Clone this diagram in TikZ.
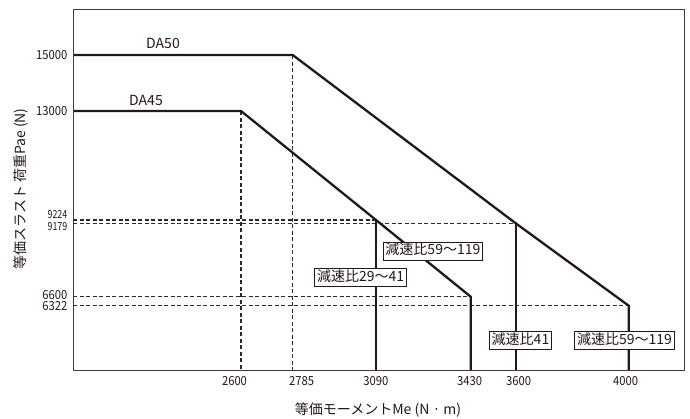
\documentclass[tikz,border=0pt]{standalone}
\usepackage{fontspec}
\setmainfont{Noto Sans CJK JP}
\definecolor{ink}{HTML}{231815}
\definecolor{dashc}{HTML}{2A2A2A}
\begin{document}
\begin{tikzpicture}[x=1pt,y=-1pt,
  curve/.style={line width=2.3pt, draw=ink, line join=miter},
  guide/.style={line width=1.3pt, draw=dashc, dash pattern=on 4pt off 2.5pt},
  framebox/.style={line width=0.9pt, draw=ink!85},
  ytick/.style={anchor=east, font=\fontsize{12.5}{12.5}\selectfont, inner sep=0pt, xscale=0.9, text=ink, text height=9.2pt, text depth=0pt},
  ytight/.style={ytick, font=\fontsize{11.2}{11.2}\selectfont, xscale=0.88, text height=8.2pt},
  xtick/.style={anchor=center, font=\fontsize{12.5}{12.5}\selectfont, inner sep=0pt, xscale=0.9, text=ink, text height=9.2pt, text depth=0pt},
  curvelabel/.style={font=\fontsize{14}{14}\selectfont, inner sep=0pt, text=ink},
  ratio/.style={draw=ink, line width=0.8pt, fill=white, font=\fontsize{14}{14}\selectfont, inner xsep=2.5pt, inner ysep=2.5pt, text height=10.5pt, text depth=2.5pt, text=ink},
  axistitle/.style={font=\fontsize{14}{14}\selectfont, inner sep=0pt, text=ink}]
\useasboundingbox (0,0) rectangle (690,418);
% key points
\coordinate (L15) at (73,55);
\coordinate (A50) at (292.7,55);
\coordinate (B50) at (516,223.5);
\coordinate (C50) at (628.7,305.7);
\coordinate (D50) at (628.7,370);
\coordinate (E50) at (516,370);
\coordinate (F50) at (292.7,370);
\coordinate (L13) at (73,111);
\coordinate (A45) at (241,111);
\coordinate (B45) at (376,220);
\coordinate (C45) at (470.7,296.7);
\coordinate (D45) at (470.7,370);
\coordinate (E45) at (376,370);
\coordinate (F45) at (241,370);
\coordinate (H9224) at (73,220);
\coordinate (H9179) at (73,223.5);
\coordinate (H6600) at (73,296.7);
\coordinate (H6322) at (73,305.7);
% guides
\draw[guide] (A45) -- (F45);
\draw[guide] (A50) -- (F50);
\draw[guide] (H9224) -- (B45);
\draw[guide] (H9179) -- (B50);
\draw[guide] (H6600) -- (C45);
\draw[guide] (H6322) -- (C50);
% curves
\draw[curve] (L15) -- (A50) -- (B50) -- (C50) -- (D50);
\draw[curve] (B50) -- (E50);
\draw[curve] (L13) -- (A45) -- (B45) -- (C45) -- (D45);
\draw[curve] (B45) -- (E45);
% frame
\draw[framebox] (73,9) rectangle (684,370);
% curve labels
\node[curvelabel] (n50) at (163,43.5) {DA50};
\node[curvelabel] (n45) at (146,100.5) {DA45};
% ratio boxes
\node[ratio] (r1) at (432.9,250.9) {減速比59〜119};
\node[ratio] (r2) at (360.7,277) {減速比29〜41};
\node[ratio] (r3) at (520.5,340.5) {減速比41};
\node[ratio] (r4) at (624.5,340.5) {減速比59〜119};
% y ticks
\node[ytick] (y1) at (67.5,55) {15000};
\node[ytick] (y2) at (67.5,111) {13000};
\node[ytight] (y3) at (67.5,214.6) {9224};
\node[ytight] (y4) at (67.5,226.4) {9179};
\node[ytick] (y5) at (67.5,295) {6600};
\node[ytick] (y6) at (67.5,306) {6322};
% x ticks
\node[xtick] (x1) at (234.5,381) {2600};
\node[xtick] (x2) at (301.7,381) {2785};
\node[xtick] (x3) at (375.8,381) {3090};
\node[xtick] (x4) at (469.7,381) {3430};
\node[xtick] (x5) at (518.7,381) {3600};
\node[xtick] (x6) at (625.5,381) {4000};
% axis titles
\node[axistitle] (tx) at (378,410) {等価モーメントMe (N\kern0.22em·\kern0.22em m)};
\node[axistitle, rotate=90] (ty) at (21,189) {等価スラスト 荷重Pae (N)};
\end{tikzpicture}
\end{document}
